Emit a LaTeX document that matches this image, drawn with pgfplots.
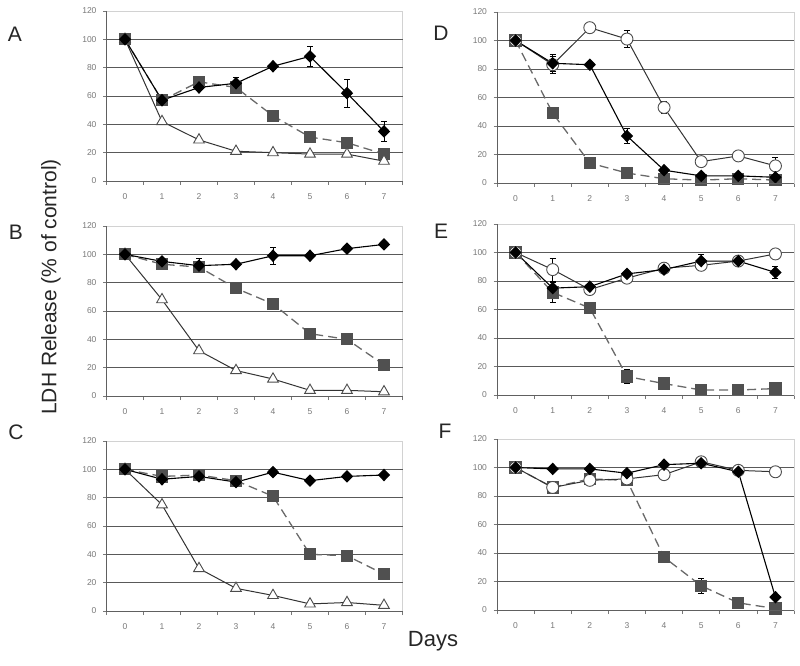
\documentclass[border=0pt]{standalone}
\usepackage{pgfplots}
\pgfplotsset{compat=1.18}
\usepackage{fontspec}
\setmainfont{Liberation Sans}
\definecolor{sqfill}{RGB}{80,80,80}
\definecolor{sqline}{RGB}{105,105,105}
\definecolor{tickgray}{RGB}{120,120,120}
\pgfplotsset{
 panel/.style={
  scale only axis, width=296pt, height=170pt,
  anchor=south west,
  xmin=-0.5, xmax=7.5, ymin=0, ymax=120,
  xtick={0,...,7}, ytick={0,20,...,120},
  minor xtick={-0.5,0.5,...,7.5},
  extra y ticks={20,40,...,100},
  extra y tick labels={},
  extra y tick style={grid=major, major tick length=0pt},
  grid style={black!65, line width=0.8pt},
  tick align=outside, tick pos=left,
  major x tick style={draw=none},
  major tick length=3.5pt, minor tick length=4pt,
  every tick/.style={tickgray, line width=0.7pt},
  axis line style={gray!35, line width=0.7pt},
  /pgf/number format/assume math mode=true,
  ticklabel style={font=\fontsize{8.5}{9}\selectfont, text=tickgray},
  yticklabel style={xshift=-3pt},
  xticklabel style={yshift=-6pt},
  clip=false,
  after end axis/.code={\draw[gray!75!black, line width=0.8pt] (rel axis cs:0,1) -- (rel axis cs:0,0) -- (rel axis cs:1,0);},
  error bars/y dir=both, error bars/y explicit,
  error bars/error bar style={black, line width=0.7pt, solid},
  error bars/error mark options={rotate=90, mark size=3pt, black, line width=0.7pt},
 },
 dia/.style={black, line width=1.1pt, mark=diamond*, mark size=5.5pt, mark options={solid, fill=black, xscale=1.3}},
 tri/.style={black!80, line width=1pt, mark=triangle*, mark size=6.2pt, mark options={solid, fill=white, draw=black!70, line width=0.9pt}},
 cir/.style={black!80, line width=1pt, mark=*, mark size=6pt, mark options={solid, fill=white, draw=black!70, line width=0.9pt}},
 sq/.style={sqline, line width=1.3pt, dash pattern=on 9pt off 5pt, mark=square*, mark size=5.5pt, mark options={solid, fill=sqfill, draw=sqfill}},
}
\begin{document}
\begin{tikzpicture}
\path[use as bounding box] (0pt,0pt) rectangle (800pt,665pt);
% Panel A
\begin{axis}[panel, at={(106.5pt,484pt)}]
\addplot[sq] coordinates {(0,100) +- (0,0) (1,57) +- (0,0) (2,70) +- (0,0) (3,66) +- (0,0) (4,46) +- (0,0) (5,31) +- (0,0) (6,27) +- (0,0) (7,19) +- (0,0)};
\addplot[tri] coordinates {(0,100) +- (0,0) (1,42) +- (0,0) (2,29) +- (0,0) (3,21) +- (0,0) (4,20) +- (0,0) (5,19) +- (0,0) (6,19) +- (0,0) (7,14) +- (0,0)};
\addplot[dia] coordinates {(0,100) +- (0,0) (1,57) +- (0,0) (2,66) +- (0,0) (3,69) +- (0,4) (4,81) +- (0,2) (5,88) +- (0,7) (6,62) +- (0,10) (7,35) +- (0,7)};
\end{axis}
% Panel B
\begin{axis}[panel, at={(106.5pt,269pt)}]
\addplot[sq] coordinates {(0,100) +- (0,0) (1,93) +- (0,0) (2,91) +- (0,0) (3,76) +- (0,0) (4,65) +- (0,0) (5,44) +- (0,0) (6,40) +- (0,0) (7,22) +- (0,0)};
\addplot[tri] coordinates {(0,100) +- (0,0) (1,68) +- (0,0) (2,32) +- (0,0) (3,18) +- (0,0) (4,12) +- (0,0) (5,4) +- (0,0) (6,4) +- (0,0) (7,3) +- (0,0)};
\addplot[dia] coordinates {(0,100) +- (0,0) (1,95) +- (0,0) (2,92) +- (0,5) (3,93) +- (0,0) (4,99) +- (0,6) (5,99) +- (0,0) (6,104) +- (0,0) (7,107) +- (0,0)};
\end{axis}
% Panel C
\begin{axis}[panel, at={(106.5pt,54pt)}]
\addplot[sq] coordinates {(0,100) +- (0,0) (1,95) +- (0,0) (2,96) +- (0,0) (3,92) +- (0,0) (4,81) +- (0,0) (5,40) +- (0,0) (6,39) +- (0,0) (7,26) +- (0,0)};
\addplot[tri] coordinates {(0,100) +- (0,0) (1,75) +- (0,0) (2,30) +- (0,0) (3,16) +- (0,0) (4,11) +- (0,0) (5,5) +- (0,0) (6,6) +- (0,0) (7,4) +- (0,0)};
\addplot[dia] coordinates {(0,100) +- (0,0) (1,93) +- (0,0) (2,95) +- (0,0) (3,91) +- (0,0) (4,98) +- (0,0) (5,92) +- (0,0) (6,95) +- (0,0) (7,96) +- (0,0)};
\end{axis}
% Panel D
\begin{axis}[panel, at={(497pt,482pt)}, height=171pt, width=297pt]
\addplot[sq] coordinates {(0,100) +- (0,0) (1,49) +- (0,0) (2,14) +- (0,0) (3,7) +- (0,0) (4,3) +- (0,0) (5,2) +- (0,0) (6,3) +- (0,0) (7,2) +- (0,0)};
\addplot[cir] coordinates {(0,100) +- (0,0) (1,83) +- (0,6) (2,109) +- (0,0) (3,101) +- (0,6) (4,53) +- (0,4) (5,15) +- (0,3) (6,19) +- (0,0) (7,12) +- (0,6)};
\addplot[dia] coordinates {(0,100) +- (0,0) (1,84) +- (0,6) (2,83) +- (0,0) (3,33) +- (0,5) (4,9) +- (0,0) (5,5) +- (0,0) (6,5) +- (0,0) (7,4) +- (0,0)};
\end{axis}
% Panel E
\begin{axis}[panel, at={(497pt,270pt)}, height=171pt, width=297pt]
\addplot[sq] coordinates {(0,100) +- (0,0) (1,72) +- (0,7) (2,61) +- (0,0) (3,13) +- (0,5) (4,8) +- (0,0) (5,3.5) +- (0,0) (6,3.5) +- (0,0) (7,4.5) +- (0,0)};
\addplot[cir] coordinates {(0,100) +- (0,0) (1,88) +- (0,8) (2,74) +- (0,0) (3,82) +- (0,0) (4,89) +- (0,0) (5,91) +- (0,0) (6,94) +- (0,0) (7,99) +- (0,0)};
\addplot[dia] coordinates {(0,100) +- (0,0) (1,75) +- (0,0) (2,76) +- (0,0) (3,85) +- (0,0) (4,88) +- (0,0) (5,94) +- (0,5) (6,94) +- (0,0) (7,86) +- (0,4)};
\end{axis}
% Panel F
\begin{axis}[panel, at={(497pt,55pt)}, height=171pt, width=297pt]
\addplot[sq] coordinates {(0,100) +- (0,0) (1,86) +- (0,0) (2,92) +- (0,0) (3,91) +- (0,0) (4,37) +- (0,0) (5,17) +- (0,5) (6,5) +- (0,0) (7,1) +- (0,0)};
\addplot[cir] coordinates {(0,100) +- (0,0) (1,86) +- (0,0) (2,91) +- (0,0) (3,92) +- (0,0) (4,95) +- (0,0) (5,104) +- (0,0) (6,98) +- (0,0) (7,97) +- (0,0)};
\addplot[dia] coordinates {(0,100) +- (0,0) (1,99) +- (0,0) (2,99) +- (0,0) (3,96) +- (0,0) (4,102) +- (0,0) (5,103) +- (0,0) (6,97) +- (0,0) (7,9) +- (0,0)};
\end{axis}
% Letters and labels
\node[font=\fontsize{21}{24}\selectfont, text=black!85] at (15pt,631pt) {A};
\node[font=\fontsize{21}{24}\selectfont, text=black!85] at (16pt,433pt) {B};
\node[font=\fontsize{21}{24}\selectfont, text=black!85] at (16pt,233pt) {C};
\node[font=\fontsize{21}{24}\selectfont, text=black!85] at (441pt,632pt) {D};
\node[font=\fontsize{21}{24}\selectfont, text=black!85] at (441pt,434pt) {E};
\node[font=\fontsize{21}{24}\selectfont, text=black!85] at (445pt,234pt) {F};
\node[font=\fontsize{21}{24}\selectfont, text=black!85, rotate=90] at (51pt,378pt) {LDH Release (\% of control)};
\node[font=\fontsize{22}{24}\selectfont, text=black!85] at (433pt,24pt) {Days};
\end{tikzpicture}
\end{document}
